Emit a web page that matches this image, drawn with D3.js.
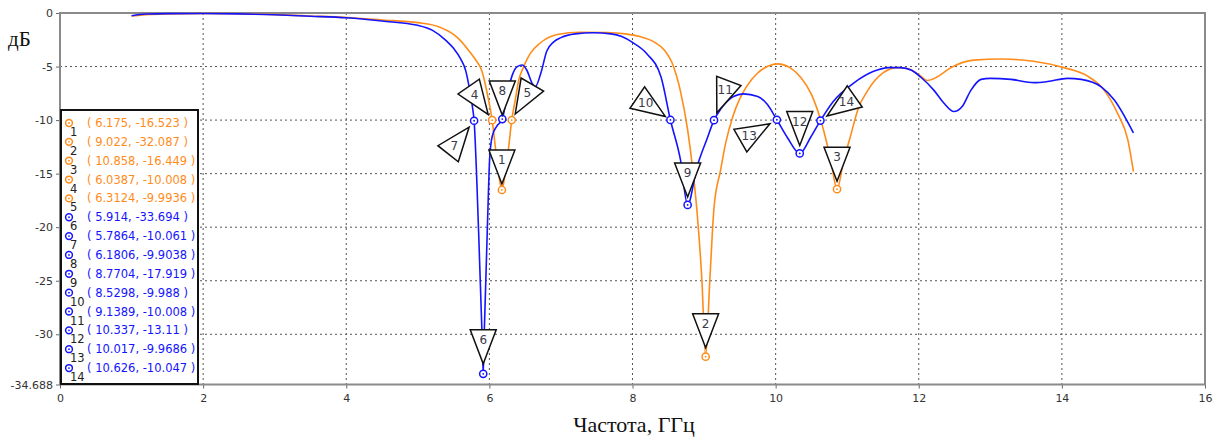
<!DOCTYPE html>
<html>
<head>
<meta charset="utf-8">
<script src="https://cdn.jsdelivr.net/npm/d3@7/dist/d3.min.js"></script>
<style>
  html, body { margin: 0; padding: 0; background: #fff; }
  svg { display: block; }
</style>
</head>
<body>
<svg id="chart" width="1217" height="441"></svg>
<script>
// Frequency sweep, GHz, and response, dB, for the two traces
const orangeFreq = [1.0, 1.2, 1.5, 2.0, 2.5, 3.0, 3.5, 4.0, 4.5, 5.0, 5.3, 5.5, 5.6, 5.7, 5.8, 5.9, 5.97,
  6.0387, 6.08, 6.13, 6.175, 6.22, 6.27, 6.3124, 6.36, 6.41, 6.48, 6.57, 6.71, 6.95, 7.27, 7.65, 7.9,
  8.1, 8.3, 8.45, 8.55, 8.67, 8.77, 8.84, 8.9, 8.97, 9.022, 9.08, 9.14, 9.23, 9.3, 9.4, 9.5, 9.6, 9.75,
  9.9, 10.03, 10.2, 10.35, 10.5, 10.63, 10.77, 10.858, 10.95, 11.05, 11.15, 11.29, 11.5, 11.7, 11.85,
  12.03, 12.12, 12.25, 12.45, 12.77, 13.15, 13.6, 14.03, 14.36, 14.59, 14.78, 14.92, 15.0];
const orangeDb = [-0.28, -0.15, -0.08, -0.05, -0.07, -0.15, -0.28, -0.42, -0.65, -0.9, -1.3, -2.0, -2.6, -3.4, -4.3, -5.5, -7.5,
  -10.008, -12.3, -15.0, -16.523, -15.0, -12.5, -9.9936, -8.2, -6.3, -5.0, -3.8, -2.8, -2.0, -1.8, -1.82, -1.95,
  -2.2, -2.7, -3.5, -4.6, -7.3, -10.9, -14.5, -18.4, -25.0, -32.087, -25.0, -18.1, -14.7, -12.2, -9.7, -8.0, -6.8, -5.6,
  -4.95, -4.75, -5.1, -6.0, -7.6, -10.0, -13.7, -16.449, -13.8, -11.4, -9.0, -7.2, -5.6, -5.1, -5.2,
  -5.9, -6.3, -6.0, -5.1, -4.4, -4.3, -4.5, -5.1, -5.9, -7.2, -9.4, -11.8, -14.8];

const blueFreq = [1.0, 1.2, 1.5, 2.0, 2.5, 3.0, 3.5, 4.0, 4.5, 5.0, 5.2, 5.4, 5.5, 5.6, 5.67, 5.72, 5.76,
  5.7864, 5.85, 5.895, 5.914, 5.93, 5.97, 6.005, 6.04, 6.1, 6.1806, 6.25, 6.32, 6.39, 6.46, 6.52, 6.6, 6.64,
  6.72, 6.8, 6.9, 7.0, 7.2, 7.45, 7.7, 7.85, 8.0, 8.2, 8.4, 8.5298, 8.67, 8.7704, 8.9, 9.05, 9.1389,
  9.23, 9.41, 9.55, 9.75, 9.88, 10.017, 10.17, 10.337, 10.49, 10.626, 10.8, 11.1, 11.37, 11.58, 11.75,
  11.9, 12.03, 12.21, 12.35, 12.49, 12.61, 12.73, 12.87, 13.0, 13.29, 13.61, 13.8, 14.08, 14.27, 14.55,
  14.73, 15.0];
const blueDb = [-0.25, -0.1, -0.06, -0.05, -0.08, -0.17, -0.3, -0.45, -0.75, -1.15, -1.6, -2.6, -3.3, -4.3, -5.4, -7.0, -8.6,
  -10.061, -20.5, -29.5, -33.694, -29.5, -20.5, -13.5, -11.5, -10.6, -9.9038, -7.6, -5.8, -5.0, -4.85, -5.3, -6.6, -6.9,
  -5.6, -3.6, -2.7, -2.3, -1.95, -1.85, -1.95, -2.2, -2.75, -3.8, -6.0, -9.988, -13.7, -17.919, -14.4, -11.6, -10.008,
  -9.0, -7.8, -7.55, -7.8, -8.5, -9.9686, -11.7, -13.11, -11.6, -10.047, -8.3, -6.5, -5.45, -5.1, -5.1,
  -5.35, -6.0, -7.2, -8.4, -9.2, -8.7, -7.2, -6.2, -6.1, -6.2, -6.5, -6.4, -6.1, -6.2, -6.9,
  -8.1, -11.2];

// Numbered markers: frequency, level and the trace they sit on (0 = orange, 1 = blue)
const markerFreq = [6.175, 9.022, 10.858, 6.0387, 6.3124, 5.914, 5.7864, 6.1806, 8.7704, 8.5298, 9.1389, 10.337, 10.017, 10.626];
const markerDb = [-16.523, -32.087, -16.449, -10.008, -9.9936, -33.694, -10.061, -9.9038, -17.919, -9.988, -10.008, -13.11, -9.9686, -10.047];
const markerTrace = [0, 0, 0, 0, 0, 1, 1, 1, 1, 1, 1, 1, 1, 1];

// Axis ticks
const xTicks = [0, 2, 4, 6, 8, 10, 12, 14, 16];
const yTicks = [0, -5, -10, -15, -20, -25, -30, -34.688];
const yMin = -34.688;

// Drawing styles
const traceColors = ["#ff8c1a", "#1414ff"];
// direction from each marker toward its callout triangle
const calloutDir = [[0, -1], [0, -1], [0, -1], [-18.5, -26.5], [16, -27.5], [0, -1], [-18.5, 23.5], [0, -1],
  [0, -1], [-29.5, -20], [11.5, -30.5], [0, -1], [-28, 16], [25.5, -18]];
const calloutGap = [6, 9, 8, 7, 7, 10, 8, 4, 8, 6, 8, 8, 8, 8];

const svg = d3.select("#chart");
const plotL = 60, plotR = 1205, plotT = 13, plotB = 384.5;

const x = d3.scaleLinear().domain([0, 16]).range([plotL, plotR]);
const y = d3.scaleLinear().domain([yMin, 0]).range([plotB, plotT]);

// grid
const grid = svg.append("g");
grid.selectAll("line.gx").data(xTicks.filter(d => d > 0 && d < 16)).join("line")
  .attr("x1", d => x(d)).attr("x2", d => x(d)).attr("y1", plotT).attr("y2", plotB)
  .attr("stroke", "#555").attr("stroke-width", 1).attr("stroke-dasharray", "2,3");
grid.selectAll("line.gy").data(yTicks.filter(d => d < 0 && d > yMin)).join("line")
  .attr("x1", plotL).attr("x2", plotR).attr("y1", d => y(d)).attr("y2", d => y(d))
  .attr("stroke", "#555").attr("stroke-width", 1).attr("stroke-dasharray", "2,3");

// axes
const xAxis = d3.axisBottom(x).tickValues(xTicks).tickSize(4).tickPadding(6).tickFormat(d => d);
const yAxis = d3.axisLeft(y).tickValues(yTicks).tickSize(4).tickPadding(3).tickFormat(d => String(d));

const gx = svg.append("g").attr("transform", `translate(0,${plotB})`).call(xAxis);
const gy = svg.append("g").attr("transform", `translate(${plotL},0)`).call(yAxis);
[gx, gy].forEach(g => {
  g.select(".domain").remove();
  g.selectAll(".tick line").attr("stroke", "#666");
  g.selectAll(".tick text").attr("fill", "#333").style("font-family", "DejaVu Sans, sans-serif").style("font-size", "11px");
});

// frame
svg.append("rect").attr("x", plotL).attr("y", plotT).attr("width", plotR - plotL).attr("height", plotB - plotT)
  .attr("fill", "none").attr("stroke", "#8a8a8a").attr("stroke-width", 2);

// traces
const line = d3.line().x(d => x(d[0])).y(d => y(d[1])).curve(d3.curveMonotoneX);
const traces = [d3.zip(orangeFreq, orangeDb), d3.zip(blueFreq, blueDb)];
svg.append("g").selectAll("path").data(traces).join("path")
  .attr("d", line).attr("fill", "none")
  .attr("stroke", (d, i) => traceColors[i]).attr("stroke-width", 1.6).attr("stroke-linejoin", "round");

// markers
const markers = markerFreq.map((f, i) => ({ n: i + 1, f, db: markerDb[i], t: markerTrace[i] }));
const mg = svg.append("g");
markers.forEach(m => {
  mg.append("circle").attr("cx", x(m.f)).attr("cy", y(m.db)).attr("r", 3.6)
    .attr("fill", "#fff").attr("stroke", traceColors[m.t]).attr("stroke-width", 1.5);
  mg.append("circle").attr("cx", x(m.f)).attr("cy", y(m.db)).attr("r", 0.9).attr("fill", traceColors[m.t]);
});

// callout triangles
const triH = 34, triW = 26;
const cg = svg.append("g");
markers.forEach((m, i) => {
  const [dx, dy] = calloutDir[i];
  const len = Math.hypot(dx, dy);
  const ux = dx / len, uy = dy / len;
  const px = -uy, py = ux;
  const mx = x(m.f), my = y(m.db);
  const ax = mx + ux * calloutGap[i], ay = my + uy * calloutGap[i];
  const bx = ax + ux * triH, by = ay + uy * triH;
  const pts = [[ax, ay], [bx + px * triW / 2, by + py * triW / 2], [bx - px * triW / 2, by - py * triW / 2]];
  cg.append("path").attr("d", "M" + pts.map(p => p.join(",")).join("L") + "Z")
    .attr("fill", "#fff").attr("stroke", "#111").attr("stroke-width", 1.5).attr("stroke-linejoin", "miter");
  cg.append("text").attr("x", ax + ux * triH * 0.7).attr("y", ay + uy * triH * 0.7)
    .attr("text-anchor", "middle").attr("dominant-baseline", "central")
    .attr("fill", "#3a3a48").style("font-family", "DejaVu Sans, sans-serif").style("font-size", "12px")
    .text(m.n);
});

// marker table
const lx = 61, ly = 110, lw = 137, lh = 274;
const lg = svg.append("g");
lg.append("rect").attr("x", lx).attr("y", ly).attr("width", lw).attr("height", lh)
  .attr("fill", "#fff").attr("stroke", "#111").attr("stroke-width", 2);
const rowH = 18.85;
markers.forEach((m, i) => {
  const cy = 123 + i * rowH;
  const c = traceColors[m.t];
  lg.append("circle").attr("cx", 69).attr("cy", cy).attr("r", 3.4)
    .attr("fill", "#fff").attr("stroke", c).attr("stroke-width", 1.5);
  lg.append("circle").attr("cx", 69).attr("cy", cy).attr("r", 0.9).attr("fill", c);
  lg.append("text").attr("x", 70).attr("y", cy + 13)
    .attr("fill", "#222").style("font-family", "DejaVu Sans, sans-serif").style("font-size", "11.5px")
    .text(m.n);
  lg.append("text").attr("x", 87).attr("y", cy + 4)
    .attr("fill", c).style("font-family", "DejaVu Sans, sans-serif").style("font-size", "11.5px")
    .text(`( ${m.f}, ${m.db} )`);
});

// axis titles
svg.append("text").attr("x", 8).attr("y", 46)
  .style("font-family", "Liberation Serif, serif").style("font-size", "21px").attr("fill", "#111")
  .text("дБ");
svg.append("text").attr("x", 634).attr("y", 432).attr("text-anchor", "middle")
  .style("font-family", "Liberation Serif, serif").style("font-size", "22px").attr("fill", "#111")
  .text("Частота, ГГц");
</script>
</body>
</html>
